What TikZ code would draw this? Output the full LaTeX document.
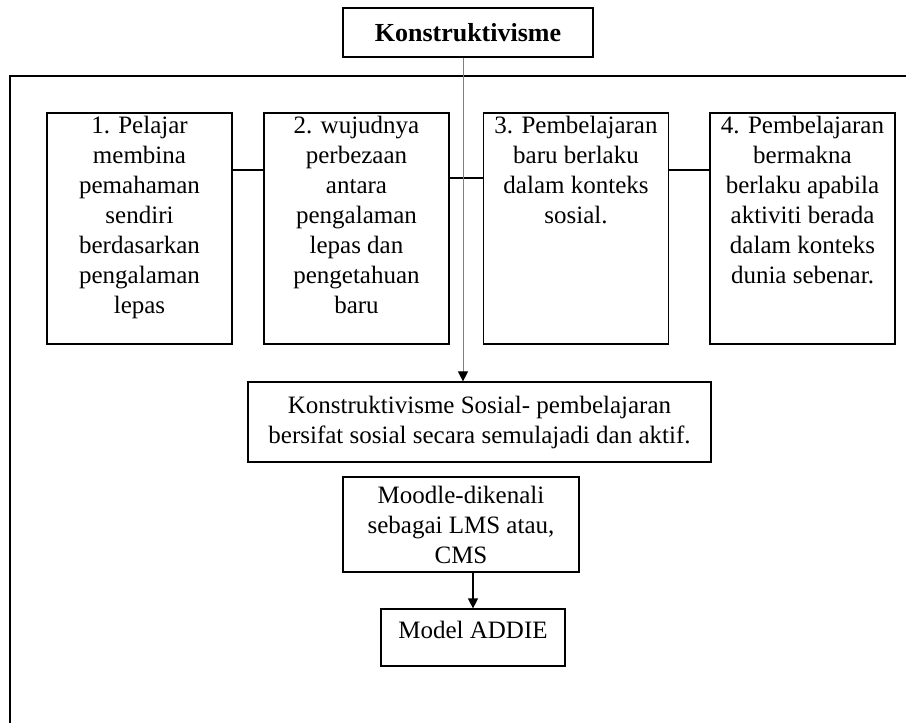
\documentclass[tikz,border=0pt]{standalone}
\usepackage{fontspec}
\setmainfont{Liberation Serif}
\usetikzlibrary{arrows.meta}

\tikzset{
  box/.style={draw, line width=1.2pt, inner sep=0pt, align=center},
  stage/.style={box, minimum width=185pt, minimum height=231pt},
  link/.style={line width=1.2pt},
  flow/.style={line width=1.2pt, -{Triangle[length=10pt, width=10pt]}}
}
\newcommand{\stagetext}[1]{\parbox[t][224pt][t]{178pt}{\centering #1}}

\begin{document}
\begin{tikzpicture}[x=1pt, y=-1pt, font=\fontsize{25}{30}\selectfont]
  \useasboundingbox (0,0) rectangle (906,723);
  % frame
  \draw[line width=1.6pt] (10,723) -- (10,76) -- (906,76);

  \node[box, minimum width=250pt, minimum height=49pt, font=\fontsize{26}{30}\selectfont\bfseries] (kon) at (468,32.5) {Konstruktivisme};

  \node[stage] (s1) at (139.5,228.5) {\stagetext{1. Pelajar\\ membina\\ pemahaman\\ sendiri\\ berdasarkan\\ pengalaman\\ lepas}};
  \node[stage] (s2) at (356.5,228.5) {\stagetext{2. wujudnya\\ perbezaan\\ antara\\ pengalaman\\ lepas dan\\ pengetahuan\\ baru}};
  \node[stage] (s3) at (576,228.5) {\stagetext{3. Pembelajaran\\ baru berlaku\\ dalam konteks\\ sosial.}};
  \node[stage] (s4) at (802.5,228.5) {\stagetext{4. Pembelajaran\\ bermakna\\ berlaku apabila\\ aktiviti berada\\ dalam konteks\\ dunia sebenar.}};

  \node[box, minimum width=463pt, minimum height=80pt] (sos) at (479.5,422) {Konstruktivisme Sosial- pembelajaran\\ bersifat sosial secara semulajadi dan aktif.};
  \node[box, minimum width=236pt, minimum height=95pt] (moodle) at (461,524.5) {Moodle-dikenali\\ sebagai LMS atau,\\ CMS};
  \node[box, minimum width=184pt, minimum height=57pt, text height=17pt, text depth=15pt] (addie) at (473,637.5) {Model ADDIE};

  \coordinate (spine) at (463,0);

  \draw[link] ([yshift=58.5pt]s1.east) -- ([yshift=58.5pt]s2.west);
  \draw[link] ([yshift=50.5pt]s2.east) -- ([yshift=50.5pt]s3.west);
  \draw[link] ([yshift=58.5pt]s3.east) -- ([yshift=58.5pt]s4.west);

  \draw[gray, line width=1pt, -{Triangle[black, length=10pt, width=10pt]}] (kon.south -| spine) -- (sos.north -| spine);
  \draw[flow] (moodle.south -| addie.north) -- (addie.north);
\end{tikzpicture}
\end{document}
